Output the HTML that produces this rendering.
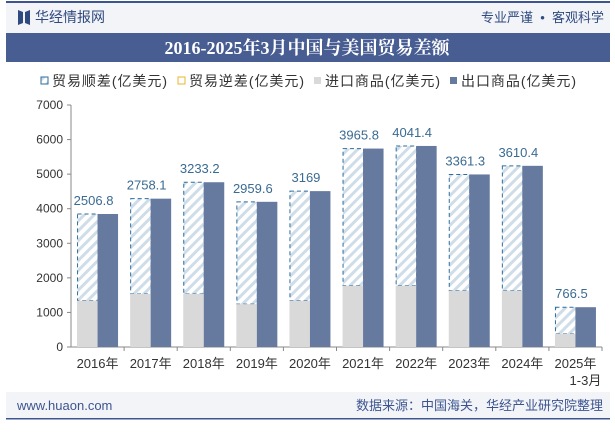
<!DOCTYPE html>
<html><head><meta charset="utf-8"><style>
body{margin:0;width:615px;height:427px;background:#fff;font-family:"Liberation Sans","Noto Sans CJK SC",sans-serif;overflow:hidden}
</style></head><body>
<svg width="615" height="427" xmlns="http://www.w3.org/2000/svg">
<defs>
<pattern id="hatch" patternUnits="userSpaceOnUse" width="7" height="7" patternTransform="rotate(45)">
<rect width="7" height="7" fill="#fff"/><rect width="3" height="7" fill="#cfdde8"/>
</pattern>
</defs>
<rect x="6" y="2" width="604" height="31" fill="#f3f4f8"/>
<rect x="6" y="1" width="604" height="2" fill="#3c5590"/>
<g><path d="M18 10 L23 12 L23 23 L18 25 Z M25 12 L30 10 L30 25 L25 23 Z" fill="#2f4a80"/>
<text x="35" y="22" font-size="14" fill="#2f4a80">华经情报网</text></g>
<text x="604" y="22" font-size="13" fill="#2f4a80" text-anchor="end">专业严谨 &#160;•&#160; 客观科学</text>
<rect x="6" y="33" width="604" height="29" fill="#485d92"/>
<text x="307" y="54" font-size="18" font-weight="bold" fill="#fff" text-anchor="middle" font-family="'Liberation Serif','Noto Serif CJK SC',serif">2016-2025年3月中国与美国贸易差额</text>
<g font-size="14" fill="#333">
<g><rect x="41" y="77" width="7" height="7" fill="url(#hatch)" stroke="#2e6d9e" stroke-width="1"/><text x="52" y="86" textLength="115">贸易顺差(亿美元)</text></g>
<g><rect x="178" y="77" width="7" height="7" fill="#fff" stroke="#e8b52c" stroke-width="1"/><text x="189" y="86" textLength="115">贸易逆差(亿美元)</text></g>
<g><rect x="314" y="77" width="7" height="7" fill="#d9d9d9"/><text x="325" y="86" textLength="115">进口商品(亿美元)</text></g>
<g><rect x="450" y="77" width="7" height="7" fill="#667aa0"/><text x="461" y="86" textLength="115">出口商品(亿美元)</text></g>
</g>
<g id="plot"></g>
<rect x="6" y="392" width="604" height="26" fill="#f3f4f8"/>
<rect x="6" y="418" width="604" height="1.5" fill="#3c5590"/>
<text x="17" y="410" font-size="13" fill="#3c5590">www.huaon.com</text>
<text x="603" y="410" font-size="13" fill="#3c5590" text-anchor="end">数据来源：中国海关，华经产业研究院整理</text>
</svg>
<script>
const categories=["2016年","2017年","2018年","2019年","2020年","2021年","2022年","2023年","2024年","2025年"];
const surplus=[2506.8,2758.1,3233.2,2959.6,3169,3965.8,4041.4,3361.3,3610.4,766.5];
const imports=[1340,1533,1533,1240,1340,1774,1774,1630,1630,385];
const yTicks=[0,1000,2000,3000,4000,5000,6000,7000];
const NS="http://www.w3.org/2000/svg";
const g=document.getElementById('plot');
const X0=71,X1=602,Y0=347,Y1=105,YMAX=7000;
const cw=(X1-X0)/categories.length;
const y=v=>Y0-(v/YMAX)*(Y0-Y1);
function mk(t,a){const e=document.createElementNS(NS,t);for(const k in a)e.setAttribute(k,a[k]);g.appendChild(e);return e;}
let ax=mk('line',{x1:X0,y1:Y1,x2:X0,y2:Y0,stroke:'#888'});


yTicks.forEach(t=>{
 mk('line',{x1:X0-4,x2:X0,y1:y(t),y2:y(t),stroke:'#888'});
 const tx=mk('text',{x:X0-8,y:y(t)+4,'font-size':12,fill:'#333','text-anchor':'end'});tx.textContent=t;
 
 
});
let xa=mk('line',{x1:X0,y1:Y0,x2:X1,y2:Y0,stroke:'#888'});


categories.forEach((c,i)=>{
 const cx=X0+cw*(i+0.5), bw=20.5;
 const exp=imports[i]+surplus[i];
 mk('line',{x1:X0+cw*(i+1),x2:X0+cw*(i+1),y1:Y0,y2:Y0+4,stroke:'#888'});
 const su=mk('rect',{x:cx-bw+0.5,y:y(exp),width:bw,height:y(imports[i])-y(exp),fill:'url(#hatch)',stroke:'#2e6d9e','stroke-dasharray':'4,3','stroke-width':1});
 
 
 const im=mk('rect',{x:cx-bw,y:y(imports[i]),width:bw,height:Y0-y(imports[i]),fill:'#d9d9d9'});
 
 
 const ex=mk('rect',{x:cx,y:y(exp),width:bw,height:Y0-y(exp),fill:'#667aa0'});
 
 
 const lb=mk('text',{x:cx-4,y:y(exp)-9,'font-size':13,fill:'#3a6b92','text-anchor':'middle'});lb.textContent=surplus[i];
 
 
 const xl=mk('text',{x:cx,y:Y0+21,'font-size':13,fill:'#333','text-anchor':'middle'});xl.textContent=c;
 
 
 if(i===categories.length-1){const s=mk('text',{x:cx+10,y:Y0+38,'font-size':13,fill:'#333','text-anchor':'middle'});s.textContent='1-3月';
 
 }
});
</script>
</body></html>
